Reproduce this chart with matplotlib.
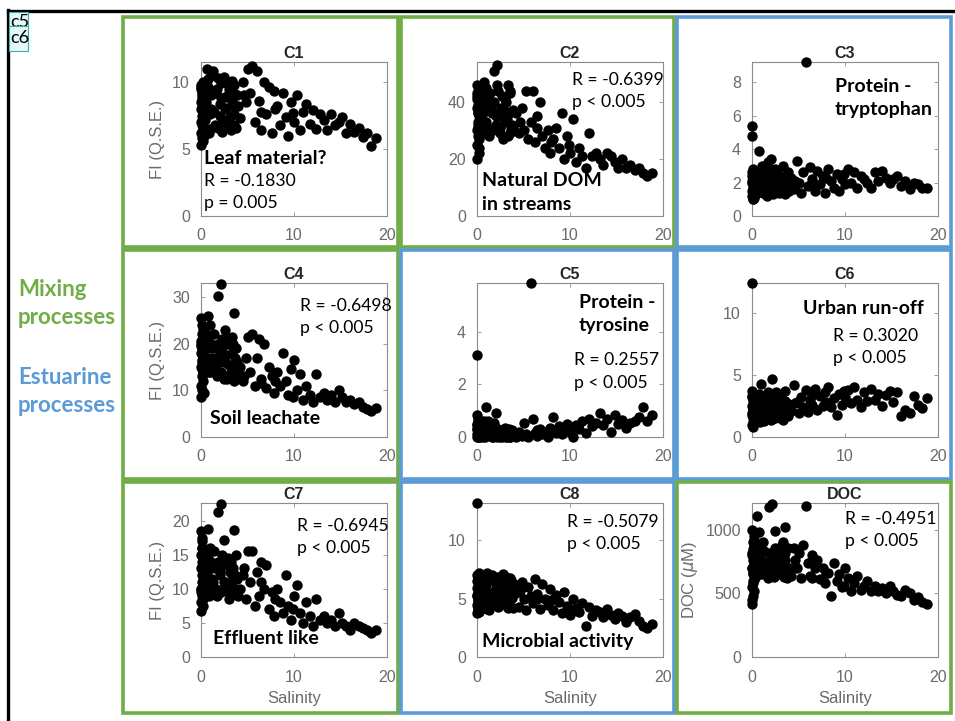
import matplotlib.pyplot as plt
from matplotlib.patches import Rectangle
from matplotlib.lines import Line2D

# shared salinity of every sample (same samples in every panel)
salinity = [
    0.0, 0.0, 0.0, 0.0, 0.05, 0.05, 0.1, 0.1, 0.1, 0.1, 0.15, 0.15, 0.2, 0.2, 0.2, 0.25, 0.25, 0.3, 0.3, 0.3, 0.0, 0.1, 0.2, 0.05, 0.15, 0.35,
    0.5, 0.6, 0.8, 1.0, 1.1, 1.3, 1.5, 1.7, 1.8, 2.0, 2.1, 2.3, 2.5, 2.6, 2.8, 3.0, 3.2, 3.3, 3.5, 3.6, 3.8, 3.9, 4.0,
    0.45, 0.7, 0.9, 1.1, 1.2, 1.4, 1.6, 1.8, 2.0, 2.2, 2.4, 2.5, 2.7, 2.9, 3.0, 3.1, 3.3, 3.4, 3.6, 3.7, 1.0, 2.6, 0.6,
    4.2, 4.5, 4.8, 5.0, 5.3, 5.5, 5.8, 6.0, 6.2, 6.5, 6.8, 7.0, 7.3, 7.6, 7.9, 8.2, 8.5, 8.8, 9.1, 9.4, 9.7, 10.0, 10.3, 10.6, 11.0, 11.3, 11.7, 12.0, 12.4, 12.8, 4.6, 6.4, 8.0, 9.9,
    13.2, 13.6, 14.0, 14.4, 14.8, 15.2, 15.6, 16.0, 16.5, 17.0, 17.4, 17.8, 18.3, 18.8,
]

c1 = [
    9.8, 5.3, 7.0, 8.5, 6.2, 9.5, 7.5, 8.0, 6.8, 9.0, 5.8, 8.8, 7.2, 10.0, 6.5, 8.2, 9.3, 7.8, 6.0, 8.6, 9.6, 7.0, 5.6, 8.0, 9.2, 7.4,
    8.5, 11.0, 10.2, 6.5, 9.0, 10.8, 6.8, 9.5, 10.3, 7.5, 8.8, 6.3, 10.0, 8.0, 7.2, 9.2, 6.4, 8.6, 9.8, 7.6, 6.6, 9.0, 8.2,
    7.2, 9.6, 6.2, 8.0, 10.5, 7.8, 9.2, 6.6, 8.4, 9.9, 7.0, 10.4, 8.1, 6.9, 9.5, 7.4, 10.1, 8.3, 6.8, 9.1, 7.6, 8.9, 9.4,
    7.3, 10.0, 8.5, 11.0, 9.2, 11.2, 7.0, 10.8, 8.6, 6.4, 10.0, 7.6, 9.6, 6.2, 9.3, 8.2, 6.8, 9.2, 7.4, 6.0, 8.5, 7.0, 9.0, 6.4, 7.8, 8.4, 6.9, 7.9, 6.5, 7.6, 9.0, 7.8, 8.0, 7.7,
    7.2, 6.4, 7.6, 6.8, 7.0, 7.4, 6.2, 6.9, 6.3, 6.6, 5.9, 6.2, 5.2, 5.8,
]
c2 = [
    20, 46, 30, 38, 25, 42, 33, 36, 28, 44, 31, 39, 22, 35, 40, 27, 45, 34, 37, 29, 41, 32, 24, 43, 36, 38,
    40, 36, 47, 33, 42, 28, 38, 30, 51, 35, 53, 44, 31, 38, 27, 41, 34, 46, 29, 43, 32, 37, 30,
    33, 45, 29, 39, 31, 43, 36, 40, 32, 46, 35, 29, 42, 37, 33, 40, 28, 36, 44, 31, 45, 37, 42,
    36, 29, 38, 30, 44, 27, 33, 44, 26, 35, 40, 28, 24, 30, 22, 27, 31, 24, 36, 20, 28, 22, 34, 19, 24, 21, 17, 29, 21, 22, 33, 31, 26, 25,
    20, 18, 22, 21, 19, 17, 20, 17, 18, 16, 17, 15, 14, 15,
]
c3 = [
    5.4, 4.8, 1.2, 2.6, 1.5, 2.0, 1.0, 2.8, 1.7, 2.3, 1.3, 1.9, 2.5, 1.1, 2.2, 1.6, 2.7, 1.4, 2.0, 1.8, 2.4, 1.2, 1.5, 2.1, 1.0, 1.8,
    2.0, 1.5, 3.9, 1.8, 3.0, 1.4, 2.4, 3.2, 1.6, 3.4, 2.2, 1.3, 2.8, 1.9, 2.5, 1.5, 2.0, 3.0, 1.6, 2.3, 1.8, 2.6, 1.5,
    1.3, 2.5, 1.7, 2.2, 1.4, 2.0, 1.2, 2.7, 1.9, 1.5, 2.3, 1.7, 2.0, 1.4, 2.4, 1.8, 1.6, 2.1, 1.3, 2.0, 2.6, 1.6, 1.9,
    2.3, 1.6, 3.3, 2.0, 1.4, 2.6, 9.2, 1.8, 2.9, 2.2, 1.5, 2.7, 1.9, 2.4, 1.4, 2.8, 2.1, 1.7, 2.5, 1.5, 2.2, 1.9, 2.8, 2.0, 2.6, 1.7, 2.4, 2.2, 2.0, 1.7, 2.1, 2.0, 2.3, 2.5,
    2.6, 2.1, 2.7, 2.3, 2.0, 2.2, 2.4, 1.8, 2.1, 1.6, 2.0, 1.9, 1.7, 1.7,
]
c4 = [
    8.5, 25.5, 15, 20, 11, 18, 13, 22, 16, 24, 10, 19, 14, 21, 17, 12, 23, 15.5, 18.5, 9.5, 20.5, 16.5, 13.5, 19.5, 14.5, 17.5,
    22, 17, 26, 14, 20, 15, 19, 13, 30.3, 18, 32.8, 21, 16, 23, 12.5, 20, 15, 21.5, 26.5, 14, 19, 16, 13,
    16, 21, 14, 19, 17, 22, 15, 20, 16.5, 14, 19.5, 12.5, 17.5, 21, 15.5, 13.5, 18, 20, 12, 17, 24, 16, 19,
    15, 12, 17, 21.5, 14, 22, 11, 17, 21, 12.5, 20, 10.5, 15, 13, 9.5, 14, 11, 18, 12, 9, 14.5, 16.5, 10, 13.5, 8, 11, 9, 7.5, 13.5, 8.5, 13, 11.5, 12, 8.5,
    9.5, 8, 9, 7.5, 10, 8.5, 7.5, 8, 7, 7.5, 6.5, 6, 5.5, 6.2,
]
c5 = [
    3.1, 0.85, 0.1, 0.5, 0.0, 0.3, 0.6, 0.05, 0.2, 0.4, 0.0, 0.7, 0.15, 0.35, 0.05, 0.5, 0.25, 0.0, 0.6, 0.1, 0.45, 0.2, 0.0, 0.3, 0.1, 0.55,
    0.3, 0.0, 0.6, 1.15, 0.1, 0.5, 0.2, 0.0, 0.4, 0.9, 0.1, 0.3, 0.0, 0.2, 0.05, 0.35, 0.0, 0.15, 0.1, 0.0, 0.25, 0.05, 0.1,
    0.05, 0.2, 0.0, 0.35, 0.6, 0.1, 0.0, 0.55, 0.15, 0.0, 0.25, 0.05, 0.0, 0.1, 0.2, 0.0, 0.05, 0.3, 0.0, 0.15, 0.45, 0.1, 0.4,
    0.0, 0.2, 0.05, 0.55, 0.1, 0.0, 5.85, 0.7, 0.15, 0.05, 0.3, 0.1, 0.2, 0.0, 0.35, 0.75, 0.15, 0.4, 0.1, 0.3, 0.5, 0.2, 0.0, 0.45, 0.3, 0.6, 0.15, 0.7, 0.4, 0.55, 0.1, 0.25, 0.3, 0.4,
    0.9, 0.45, 0.7, 0.2, 0.85, 0.5, 0.65, 0.35, 0.55, 0.6, 0.75, 1.15, 0.6, 0.85,
]
c6 = [
    12.4, 3.7, 1.0, 2.5, 1.8, 3.2, 0.8, 2.2, 1.5, 2.9, 1.2, 2.0, 3.5, 1.6, 2.7, 1.1, 2.4, 3.0, 1.4, 2.1, 1.9, 2.6, 1.3, 3.3, 2.3, 1.7,
    2.5, 1.6, 3.5, 4.3, 2.0, 1.3, 2.8, 3.6, 1.8, 2.4, 4.7, 3.0, 1.5, 2.6, 1.9, 3.4, 2.2, 1.4, 3.7, 2.0, 2.7, 1.7, 2.5,
    1.9, 2.9, 1.2, 3.3, 2.1, 1.6, 3.0, 2.3, 1.4, 2.8, 1.8, 3.2, 2.0, 2.6, 1.5, 3.1, 2.4, 1.9, 2.9, 2.2, 2.0, 3.6, 2.3,
    2.1, 4.2, 2.8, 1.9, 3.2, 2.4, 3.8, 2.0, 3.0, 2.6, 3.9, 2.2, 3.3, 2.5, 3.6, 4.0, 2.4, 3.1, 1.8, 3.5, 2.6, 3.2, 3.8, 2.7, 4.0, 3.0, 2.4, 3.6, 2.9, 3.9, 2.7, 3.4, 2.8, 3.7,
    3.0, 3.5, 2.5, 3.4, 3.7, 2.8, 3.6, 1.7, 2.2, 1.9, 3.3, 2.6, 2.3, 3.1,
]
c7 = [
    6.8, 18.5, 10, 15, 8, 13, 11, 17, 9, 14, 12, 16, 7.5, 13.5, 10.5, 15.5, 8.5, 12.5, 11.5, 14.5, 9.5, 17.5, 12, 10, 16, 13,
    15, 12, 18.8, 10, 14, 11, 13, 9, 21.3, 12.5, 22.5, 15, 17.2, 11, 13.5, 9.5, 14, 12, 18.7, 10, 15, 11.5, 9,
    10.5, 14.5, 9, 13, 11.5, 15.5, 10, 14, 12, 9.5, 13.5, 11, 10.5, 14.5, 8.5, 12.5, 11, 13, 9.5, 12, 16, 10.5, 13.5,
    10, 12, 8.5, 15.5, 11, 15.5, 7.5, 12.5, 9, 14, 10, 13.5, 7, 9.5, 6, 10, 8, 6.5, 12, 7.5, 5.5, 9, 10.5, 6.5, 5, 8, 6, 4.5, 8.5, 5.5, 13, 11, 8.5, 7,
    6, 5, 5.5, 4.5, 6.5, 5, 4.5, 4, 5, 4.5, 4.2, 4, 3.5, 4,
]
c8 = [
    13.2, 3.8, 6.5, 4.5, 7.0, 5.2, 4.0, 6.0, 5.5, 4.8, 6.8, 4.2, 5.8, 6.3, 5.0, 7.2, 4.4, 5.6, 6.1, 4.6, 5.3, 6.7, 3.9, 5.9, 4.9, 6.4,
    5.8, 7.0, 4.5, 6.2, 7.2, 4.0, 5.5, 6.6, 4.8, 5.9, 6.9, 4.3, 5.2, 6.4, 7.1, 4.7, 5.6, 6.0, 4.4, 6.8, 5.1, 4.2, 6.3,
    4.9, 6.1, 5.4, 4.1, 6.7, 5.0, 7.0, 4.6, 5.7, 6.5, 4.4, 5.3, 6.0, 4.8, 5.5, 6.9, 4.2, 5.8, 5.1, 6.6, 4.5, 6.2, 5.6,
    5.5, 4.3, 6.4, 5.0, 4.0, 6.0, 5.2, 4.6, 6.7, 5.4, 4.1, 6.3, 5.0, 4.5, 5.8, 4.0, 5.3, 4.7, 3.8, 5.6, 4.4, 3.6, 5.0, 4.2, 3.9, 4.6, 2.7, 4.3, 3.5, 4.0, 5.7, 5.0, 4.9, 4.1,
    3.9, 3.4, 4.1, 3.6, 3.3, 3.8, 3.5, 3.0, 3.4, 3.7, 3.1, 2.7, 2.5, 2.8,
]
doc = [
    420, 1000, 550, 800, 450, 700, 900, 600, 760, 480, 850, 650, 950, 720, 520, 880, 680, 790, 620, 740, 820, 580, 920, 700, 660, 760,
    1110, 700, 980, 760, 650, 830, 720, 620, 1180, 780, 1200, 700, 990, 840, 650, 760, 880, 700, 1020, 760, 620, 860, 700,
    780, 650, 850, 700, 900, 740, 660, 820, 700, 780, 630, 860, 720, 800, 680, 740, 900, 630, 820, 700, 760, 690, 870,
    640, 860, 700, 820, 620, 880, 1190, 740, 640, 800, 700, 760, 610, 700, 580, 660, 480, 740, 600, 650, 550, 700, 620, 520, 580, 640, 530, 560, 600, 520, 760, 620, 660, 560,
    560, 520, 540, 500, 560, 520, 490, 480, 530, 500, 450, 470, 430, 420,
]

panel_values = [c1, c2, c3, c4, c5, c6, c7, c8, doc]
panel_titles = ['C1', 'C2', 'C3', 'C4', 'C5', 'C6', 'C7', 'C8', 'DOC']
y_tops = [11.5, 54, 9.2, 33, 5.85, 12.4, 22.6, 13.2, 1210]
y_ticks = [[0, 5, 10], [0, 20, 40], [0, 2, 4, 6, 8], [0, 10, 20, 30], [0, 2, 4],
           [0, 5, 10], [0, 5, 10, 15, 20], [0, 5, 10], [0, 500, 1000]]

GREEN = '#70AD47'
BLUE = '#5B9BD5'
box_colors = [GREEN, GREEN, BLUE, GREEN, BLUE, BLUE, GREEN, BLUE, GREEN]

W, H = 955, 721
plt.rcParams['font.family'] = ['Liberation Sans', 'DejaVu Sans']
plt.rcParams['mathtext.fontset'] = 'dejavusans'
ANNOT_FONT = 'Lato'


def fx(px):
    return px / W


def fy(py):
    return 1 - py / H


fig = plt.figure(figsize=(W / 100, H / 100), dpi=100)

ax_left = [201, 477, 752]
ax_top = [62, 283, 503]
ax_w, ax_h = 186, 154
box_cols = [(123, 398), (401, 674), (677, 951)]
box_rows = [(17, 247), (250, 479), (482, 713)]

for i in range(9):
    r, c = divmod(i, 3)
    ax = fig.add_axes([fx(ax_left[c]), fy(ax_top[r] + ax_h), ax_w / W, ax_h / H])
    ax.scatter(salinity, panel_values[i], s=56, c='black', linewidths=0, clip_on=False, zorder=3)
    ax.set_xlim(0, 20)
    ax.set_ylim(0, y_tops[i])
    ax.set_xticks([0, 10, 20])
    ax.set_yticks(y_ticks[i])
    ax.tick_params(direction='in', top=True, right=True, length=3, width=0.6,
                   color='#8c8c8c', labelcolor='#6a6a6a', labelsize=11.5)
    ax.tick_params(axis='x', pad=9)
    ax.tick_params(axis='y', pad=8)
    for sp in ax.spines.values():
        sp.set_color('#8c8c8c')
        sp.set_linewidth(0.8)
    ax.set_title(panel_titles[i], fontsize=11.5, fontweight='bold', color='#262626', pad=3)
    if c == 0:
        ax.set_ylabel('FI (Q.S.E.)', fontsize=12, color='#6a6a6a', labelpad=5)
    if i == 8:
        ax.set_ylabel(r'DOC ($\mu$M)', fontsize=12, color='#6a6a6a', labelpad=4)
    if r == 2:
        ax.set_xlabel('Salinity', fontsize=12, color='#6a6a6a', labelpad=5)

    x0, x1 = box_cols[c]
    y0, y1 = box_rows[r]
    fig.patches.append(Rectangle((fx(x0), fy(y1)), (x1 - x0) / W, (y1 - y0) / H,
                                 transform=fig.transFigure, fill=False,
                                 edgecolor=box_colors[i], linewidth=2.6))

annotations = [
    ('Leaf material?', 204, 158, True),
    ('R = -0.1830', 204, 181, False),
    ('p = 0.005', 204, 203, False),
    ('R = -0.6399', 572, 80, False),
    ('p < 0.005', 572, 102, False),
    ('Natural DOM', 482, 181, True),
    ('in streams', 482, 204, True),
    ('Protein -', 835, 86, True),
    ('tryptophan', 835, 110, True),
    ('R = -0.6498', 300, 306, False),
    ('p < 0.005', 300, 328, False),
    ('Soil leachate', 210, 418, True),
    ('Protein -', 579, 302, True),
    ('tyrosine', 579, 326, True),
    ('R = 0.2557', 574, 360, False),
    ('p < 0.005', 574, 383, False),
    ('Urban run-off', 803, 308, True),
    ('R = 0.3020', 833, 336, False),
    ('p < 0.005', 833, 358, False),
    ('R = -0.6945', 297, 526, False),
    ('p < 0.005', 297, 548, False),
    ('Effluent like', 213, 639, True),
    ('R = -0.5079', 567, 522, False),
    ('p < 0.005', 567, 544, False),
    ('Microbial activity', 482, 641, True),
    ('R = -0.4951', 845, 519, False),
    ('p < 0.005', 845, 541, False),
]
for txt, px, py, bold in annotations:
    fig.text(fx(px), fy(py), txt, family=ANNOT_FONT, fontsize=14 if bold else 12.6,
             fontweight='bold' if bold else 'normal', color='black', ha='left', va='center')

# process labels on the left
for txt, py, col in [('Mixing', 289, GREEN), ('processes', 318, GREEN),
                     ('Estuarine', 377, BLUE), ('processes', 405, BLUE)]:
    fig.text(fx(18), fy(py), txt, family=ANNOT_FONT, fontsize=16, fontweight='bold', color=col, va='center')

# black frame along top and left
fig.lines.append(Line2D([fx(8), 1], [fy(11), fy(11)], transform=fig.transFigure, color='black', linewidth=2.4))
fig.lines.append(Line2D([fx(8), fx(8)], [fy(10), 0], transform=fig.transFigure, color='black', linewidth=2.4))

# small c5 / c6 tags in the corner
fig.patches.append(Rectangle((fx(9), fy(26)), 19 / W, 14 / H, transform=fig.transFigure,
                             facecolor='#E4F8F8', edgecolor='#3AAFAF', linewidth=0.8, zorder=2))
fig.text(fx(10), fy(14), 'c5', family=ANNOT_FONT, fontsize=13, va='top', zorder=2.5)
fig.patches.append(Rectangle((fx(9), fy(51)), 19 / W, 25 / H, transform=fig.transFigure,
                             facecolor='#E4F8F8', edgecolor='#3AAFAF', linewidth=0.8, zorder=3))
fig.text(fx(10), fy(38), 'c6', family=ANNOT_FONT, fontsize=13, va='center', zorder=4)

fig.savefig('out.png', dpi=100)
